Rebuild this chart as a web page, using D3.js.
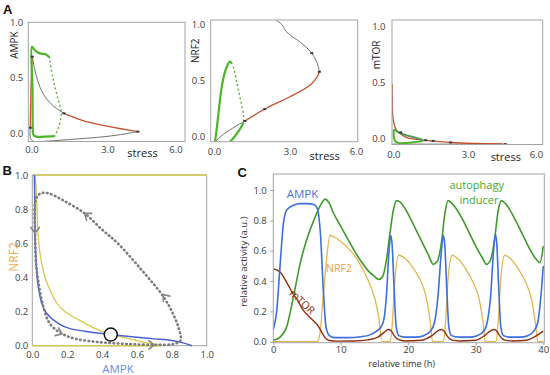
<!DOCTYPE html>
<html>
<head>
<meta charset="utf-8">
<script src="https://cdn.jsdelivr.net/npm/d3@7"></script>
<style>
  body { margin: 0; background: #fff; }
  svg { display: block; }
  text { font-family: 'Open Sans', 'DejaVu Sans', sans-serif; }
</style>
</head>
<body>
<script>
// ---------- panel A : steady states against stress ----------
var stressTicks = [0, 3, 6];
var levelTicks = [0, 0.5, 1];

var a1Lower = [[-0.05, 0.05], [-0.03, -0.05], [0.1, -0.075], [0.5, -0.072], [1.5, -0.056], [2.9, -0.03], [3.7, -0.005], [4.2, 0.015]];
var a1RedUpper = [[4.2, 0.015], [3.08, 0.06], [2.16, 0.105], [1.6, 0.15], [1.28, 0.18]];
var a1GreyUpper = [[1.28, 0.18], [0.98, 0.225], [0.71, 0.28], [0.45, 0.36], [0.25, 0.47], [0.12, 0.585], [0.03, 0.69]];
var a1RedLeft = [[0.03, 0.69], [0.0, 0.55], [-0.03, 0.3], [-0.05, 0.05]];
var a1Green = [[0.91, -0.025], [0.5, -0.03], [0.18, -0.03], [0.07, -0.01], [0.05, 0.05], [0.04, 0.4], [0.02, 0.78], [0.12, 0.75], [0.32, 0.72], [0.58, 0.71], [0.7, 0.685]];
var a1GreenDots = [[0.7, 0.685], [0.84, 0.5], [1.04, 0.315], [1.17, 0.195], [1.1, 0.075], [0.97, 0.0], [0.91, -0.025]];
var a1Marks = [[0.03, 0.69], [1.28, 0.18], [4.2, 0.015], [-0.05, 0.05]];

var a2Lower = [[0.04, -0.05], [0.43, 0.024], [0.83, 0.083], [1.22, 0.134]];
var a2Red = [[1.22, 0.134], [2.08, 0.25], [3.0, 0.35], [3.8, 0.455], [4.05, 0.52], [4.16, 0.574]];
var a2GreyUpper = [[4.16, 0.574], [4.06, 0.66], [3.86, 0.74], [3.55, 0.81], [3.27, 0.86], [2.95, 0.91], [2.8, 0.95], [2.7, 0.99], [2.55, 1.02], [2.4, 1.045]];
var a2Green = [[0.04, -0.05], [0.1, 0.05], [0.17, 0.19], [0.3, 0.43], [0.43, 0.57], [0.55, 0.64], [0.63, 0.665], [0.7, 0.65]];
var a2GreenDots = [[0.7, 0.65], [0.76, 0.62], [0.9, 0.48], [1.03, 0.34], [1.16, 0.19], [1.17, 0.12]];
var a2GreenLow = [[1.17, 0.12], [0.96, 0.038], [0.7, -0.036], [0.63, -0.05]];
var a2Marks = [[1.22, 0.134], [4.16, 0.574], [3.86, 0.74], [2.0, 0.24]];

var a3Red = [[-0.04, 0.48], [-0.04, 0.34], [0.0, 0.16], [0.13, 0.07], [0.47, 0.01], [1.4, -0.024], [2.34, -0.04], [3.3, -0.048], [4.4, -0.053]];
var a3Lower = [[0.0, -0.056], [4.55, -0.056]];
var a3Green = [[0.04, 0.072], [0.2, 0.05], [0.47, 0.027], [0.8, 0.01], [1.0, -0.003], [1.2, -0.024], [0.74, -0.04], [0.13, -0.04], [0.04, -0.01]];
var a3Blue = [[0.13, 0.06], [0.6, 0.02], [1.16, -0.02]];
var a3Marks = [[0.3, 0.05], [1.3, -0.02], [1.6, -0.026], [2.3, -0.04], [4.5, -0.055]];

// ---------- panel B : phase plane ----------
var phaseTicks = [0, 0.2, 0.4, 0.6, 0.8, 1];
var ampkNull = [[0.012, 1.0], [0.014, 0.85], [0.016, 0.65], [0.025, 0.44], [0.044, 0.29], [0.07, 0.21], [0.1, 0.17], [0.15, 0.13], [0.216, 0.1], [0.3, 0.085], [0.41, 0.07], [0.5, 0.06], [0.6, 0.05], [0.7, 0.04], [0.8, 0.03], [0.87, 0.015], [0.915, 0.0]];
var nrf2Null = [[0.015, 1.0], [0.02, 0.95], [0.027, 0.8], [0.034, 0.64], [0.063, 0.44], [0.1, 0.33], [0.14, 0.25], [0.2, 0.19], [0.27, 0.15], [0.34, 0.11], [0.41, 0.08], [0.5, 0.055], [0.6, 0.03], [0.68, 0.012], [0.74, 0.0]];
var nrf2Top = [[0.01, 1], [1, 1]];
var nrf2Bottom = [[0, 0], [0.74, 0]];
var orbit = [[0.015, 0.83], [0.016, 0.65], [0.02, 0.5], [0.034, 0.38], [0.063, 0.23], [0.1, 0.13], [0.17, 0.07], [0.25, 0.04], [0.39, 0.02], [0.55, 0.01], [0.71, 0.005], [0.81, 0.01], [0.85, 0.03], [0.84, 0.1], [0.81, 0.18], [0.75, 0.29], [0.63, 0.44], [0.49, 0.6], [0.4, 0.68], [0.3, 0.775], [0.18, 0.85], [0.1, 0.89], [0.055, 0.895], [0.028, 0.875]];
var orbitArrows = [[0.016, 0.66, 0, -1], [0.17, 0.068, 0.15, -0.07], [0.70, 0.005, 1, 0], [0.75, 0.3, -0.12, 0.15], [0.3, 0.775, -0.22, 0.17]];
var fixedPoint = [0.45, 0.065];

// ---------- panel C : time courses ----------
var timeTicks = [0, 10, 20, 30, 40];
var activityTicks = [0, 0.2, 0.4, 0.6, 0.8, 1];
var ampkT = [[0, 0.08], [0.5, 0.2], [1, 0.5], [1.5, 0.78], [2, 0.87], [3, 0.9], [4, 0.91], [5, 0.91], [6, 0.905], [6.5, 0.88], [7, 0.7], [7.4, 0.35], [7.8, 0.1], [8.3, 0.04], [9, 0.027], [11, 0.027], [13, 0.033], [14.3, 0.045], [15.3, 0.07], [16, 0.1], [16.4, 0.15], [16.8, 0.33], [17.1, 0.57], [17.4, 0.7], [17.6, 0.64], [17.9, 0.35], [18.2, 0.1], [18.6, 0.04], [19.5, 0.03], [21, 0.03], [22.3, 0.04], [23.3, 0.07], [23.9, 0.13], [24.4, 0.3], [24.85, 0.57], [25.2, 0.7], [25.4, 0.64], [25.7, 0.35], [26, 0.1], [26.4, 0.04], [27.5, 0.03], [29, 0.03], [30.2, 0.04], [31.2, 0.07], [31.7, 0.13], [32.2, 0.3], [32.6, 0.58], [32.9, 0.71], [33.1, 0.65], [33.4, 0.35], [33.7, 0.1], [34.1, 0.04], [35, 0.03], [36.5, 0.03], [37.7, 0.04], [38.6, 0.07], [39.2, 0.13], [39.6, 0.28], [40, 0.5]];
var autoT = [[0, 0.01], [1, 0.03], [2, 0.1], [3, 0.3], [4, 0.52], [5, 0.68], [6, 0.8], [7, 0.9], [7.7, 0.94], [8.2, 0.92], [9, 0.84], [10, 0.76], [11, 0.68], [12, 0.6], [13, 0.53], [14, 0.47], [15, 0.43], [15.6, 0.41], [16.2, 0.43], [16.8, 0.55], [17.3, 0.72], [17.8, 0.87], [18.3, 0.93], [18.8, 0.92], [20, 0.84], [21, 0.75], [22, 0.66], [23, 0.57], [23.7, 0.51], [24.3, 0.53], [24.9, 0.65], [25.4, 0.84], [25.9, 0.93], [26.5, 0.91], [28, 0.81], [29, 0.72], [30, 0.63], [31, 0.55], [31.6, 0.51], [32.2, 0.54], [32.8, 0.68], [33.3, 0.86], [33.8, 0.93], [34.4, 0.91], [36, 0.79], [37, 0.7], [38, 0.61], [39, 0.54], [39.5, 0.52], [40, 0.63]];
var nrf2T = [[0, 0], [6.5, 0], [6.9, 0.05], [7.3, 0.25], [7.8, 0.5], [8.4, 0.7], [9, 0.69], [10, 0.66], [11, 0.62], [12, 0.57], [13, 0.5], [14, 0.41], [15, 0.29], [15.6, 0.17], [16.1, 0], [17.3, 0], [17.6, 0.1], [18, 0.4], [18.6, 0.57], [19.5, 0.55], [20.5, 0.5], [21.5, 0.43], [22.5, 0.32], [23.2, 0.15], [23.6, 0], [25.2, 0], [25.5, 0.12], [25.9, 0.42], [26.5, 0.57], [27.5, 0.54], [28.5, 0.48], [29.5, 0.4], [30.5, 0.28], [31.1, 0.12], [31.4, 0], [33, 0], [33.3, 0.12], [33.7, 0.42], [34.3, 0.57], [35.3, 0.54], [36.3, 0.48], [37.3, 0.4], [38.3, 0.27], [38.9, 0.1], [39.2, 0], [40, 0]];
var mtorT = [[0, 0.48], [1, 0.46], [2, 0.39], [3, 0.31], [3.5, 0.28], [4.4, 0.21], [5.2, 0.17], [5.9, 0.14], [6.7, 0.1], [7.2, 0.06], [7.7, 0.025], [8.3, 0.008], [9.5, 0.004], [12, 0.005], [14, 0.012], [15.5, 0.03], [16.5, 0.065], [17, 0.08], [17.4, 0.075], [17.9, 0.04], [18.5, 0.015], [19.5, 0.005], [22, 0.01], [23.5, 0.04], [24.5, 0.075], [24.9, 0.08], [25.3, 0.07], [25.8, 0.035], [26.5, 0.01], [27.5, 0.005], [30, 0.01], [31.3, 0.04], [32.3, 0.075], [32.7, 0.08], [33.1, 0.07], [33.6, 0.035], [34.3, 0.01], [35.5, 0.005], [37.5, 0.01], [39, 0.04], [40, 0.07]];

// ---------- drawing ----------
var svg = d3.select('body').append('svg')
    .attr('width', 550)
    .attr('height', 375);

var boxColor = '#a3a3a3', tickColor = '#404040';
var grey = '#707070', red = '#c4502c', green = '#4cb52a', dotGreen = '#6aa83a';

function addPanel(id, box) {
  svg.append('clipPath').attr('id', id)
    .append('rect').attr('x', box[0]).attr('y', box[1])
    .attr('width', box[2] - box[0]).attr('height', box[3] - box[1]);
  return svg.append('g').attr('clip-path', 'url(#' + id + ')');
}

function path(g, pts, xs, ys, color, w, curve, dash) {
  var line = d3.line()
      .x(function(d){ return xs(d[0]); })
      .y(function(d){ return ys(d[1]); })
      .curve(curve || d3.curveCatmullRom);
  var p = g.append('path').datum(pts)
    .attr('d', line)
    .attr('fill', 'none')
    .attr('stroke', color)
    .attr('stroke-width', w)
    .attr('stroke-linejoin', 'round');
  if (dash) p.attr('stroke-dasharray', dash).attr('stroke-linecap', 'round');
  return p;
}

function frame(box) {
  svg.append('rect')
    .attr('x', box[0]).attr('y', box[1])
    .attr('width', box[2] - box[0]).attr('height', box[3] - box[1])
    .attr('fill', 'none').attr('stroke', boxColor).attr('stroke-width', 1);
}

function styleAxis(g) {
  g.select('.domain').remove();
  g.selectAll('line').attr('stroke', boxColor);
  g.selectAll('text').attr('fill', tickColor).style('font-size', '9.5px')
    .style('font-family', "'Open Sans', sans-serif");
}

function axesA(box, xs, ys, ypad, xpad, lastX) {
  svg.append('g').attr('transform', 'translate(' + box[0] + ',0)')
    .call(d3.axisLeft(ys).tickValues(levelTicks).tickFormat(d3.format('.1f')).tickSize(0).tickPadding(ypad))
    .call(styleAxis);
  var gx = svg.append('g').attr('transform', 'translate(0,' + box[3] + ')')
    .call(d3.axisBottom(xs).tickValues(stressTicks).tickFormat(d3.format('.1f')).tickSize(0).tickPadding(xpad))
    .call(styleAxis);
  gx.selectAll('.tick').filter(function(d){ return d === 6; })
    .attr('transform', 'translate(' + lastX + ',0)');
}

function marks(g, pts, xs, ys) {
  g.selectAll(null).data(pts).enter().append('rect')
    .attr('x', function(d){ return xs(d[0]) - 1.5; })
    .attr('y', function(d){ return ys(d[1]) - 1; })
    .attr('width', 3).attr('height', 2)
    .attr('fill', '#3a3a3a');
}

function label(x, y, txt, size, color, rot, weight) {
  var t = svg.append('text')
    .attr('x', x).attr('y', y)
    .attr('text-anchor', 'middle')
    .attr('fill', color)
    .style('font-size', size + 'px')
    .text(txt);
  if (rot) t.attr('transform', 'rotate(' + rot + ',' + x + ',' + y + ')').attr('dominant-baseline', 'central');
  if (weight) t.style('font-weight', weight);
  return t;
}

// panel letters
function letter(x, y, s) {
  svg.append('text').attr('x', x).attr('y', y).text(s)
    .style('font-family', "'Liberation Sans', Arial, sans-serif")
    .style('font-weight', 'bold').style('font-size', '13px').attr('fill', '#111');
}
letter(3, 13.5, 'A');
letter(2.5, 175, 'B');
letter(237.5, 176.5, 'C');

// ---- A1 ----
(function() {
  var box = [28.3, 22.3, 185, 141.5];
  var x = d3.scaleLinear().domain([0, 3]).range([31.5, 107.5]);
  var y = d3.scaleLinear().domain([0, 1]).range([133.3, 22.3]);
  var g = addPanel('a1', box);
  path(g, a1Lower, x, y, grey, 1);
  path(g, a1GreyUpper, x, y, grey, 1);
  path(g, a1RedUpper, x, y, red, 1.3);
  path(g, a1RedLeft, x, y, red, 1.3);
  path(g, a1GreenDots, x, y, dotGreen, 1.6, null, '0.5,4');
  path(g, a1Green, x, y, green, 2.2);
  marks(g, a1Marks, x, y);
  frame(box);
  axesA(box, x, y, 5, 5, 176);
  label(142.5, 157, 'stress', 11, '#222');
  label(13.5, 45, 'AMPK', 10, '#222', -90);
})();

// ---- A2 ----
(function() {
  var box = [210.7, 20, 357.7, 141.7];
  var x = d3.scaleLinear().domain([0, 3]).range([214, 290]);
  var y = d3.scaleLinear().domain([0, 1]).range([136, 24]);
  var g = addPanel('a2', box);
  path(g, a2Lower, x, y, grey, 1);
  path(g, a2GreyUpper, x, y, grey, 1);
  path(g, a2Red, x, y, red, 1.3);
  path(g, a2GreenDots, x, y, dotGreen, 1.6, null, '0.5,4');
  path(g, a2Green, x, y, green, 2.2);
  path(g, a2GreenLow, x, y, green, 2.2);
  marks(g, a2Marks, x, y);
  frame(box);
  axesA(box, x, y, 5.5, 6.6, 356.5);
  label(324.7, 159.5, 'stress', 11, '#222');
  label(195, 50.7, 'NRF2', 10, '#222', -90);
})();

// ---- A3 ----
(function() {
  var box = [392, 20, 542.7, 144.5];
  var x = d3.scaleLinear().domain([0, 3]).range([393.3, 468]);
  var y = d3.scaleLinear().domain([0, 1]).range([138, 26]);
  var g = addPanel('a3', box);
  path(g, a3Lower, x, y, '#333', 1.2);
  path(g, a3Red, x, y, red, 1.3);
  path(g, a3Green, x, y, green, 2, d3.curveCatmullRomClosed);
  path(g, a3Blue, x, y, '#5a7ab8', 1);
  marks(g, a3Marks, x, y);
  frame(box);
  axesA(box, x, y, 6.5, 7.1, 536.5);
  label(505.8, 161, 'stress', 11, '#222');
  label(376, 55, 'mTOR', 10, '#222', -90);
})();

// ---- B ----
(function() {
  var box = [32.3, 175, 206.7, 345.7];
  var x = d3.scaleLinear().domain([0, 1]).range([32.3, 206.7]);
  var y = d3.scaleLinear().domain([0, 1]).range([345.7, 175]);
  frame(box);
  var g = svg.append('g');
  var yellow = '#d6c94c', blue = '#4a5fd4';
  path(g, nrf2Top, x, y, yellow, 1.5, d3.curveLinear);
  path(g, nrf2Bottom, x, y, yellow, 1.5, d3.curveLinear);
  path(g, nrf2Null, x, y, yellow, 1.3, d3.curveMonotoneX);
  path(g, ampkNull, x, y, blue, 1.5, d3.curveMonotoneX);
  path(g, orbit, x, y, '#7c7c7c', 2.6, d3.curveCatmullRomClosed, '0.6,3.6');

  orbitArrows.forEach(function(a) {
    var px = x(a[0]), py = y(a[1]);
    var ang = Math.atan2(y(a[1] + a[3] * 0.01) - py, x(a[0] + a[2] * 0.01) - px);
    var len = 7, spread = 0.65;
    var p1 = [px - len * Math.cos(ang - spread), py - len * Math.sin(ang - spread)];
    var p2 = [px - len * Math.cos(ang + spread), py - len * Math.sin(ang + spread)];
    g.append('path')
      .attr('d', 'M' + p1 + 'L' + [px, py] + 'L' + p2)
      .attr('fill', 'none').attr('stroke', '#858585').attr('stroke-width', 1.6)
      .attr('stroke-linecap', 'round').attr('stroke-linejoin', 'round');
  });

  g.append('circle')
    .attr('cx', x(fixedPoint[0])).attr('cy', y(fixedPoint[1])).attr('r', 6.5)
    .attr('fill', '#fff').attr('stroke', '#111').attr('stroke-width', 1.5);

  svg.append('g').attr('transform', 'translate(' + box[0] + ',0)')
    .call(d3.axisLeft(y).tickValues(phaseTicks).tickFormat(d3.format('.1f')).tickSize(0).tickPadding(4))
    .call(styleAxis);
  svg.append('g').attr('transform', 'translate(0,' + box[3] + ')')
    .call(d3.axisBottom(x).tickValues(phaseTicks).tickFormat(d3.format('.1f')).tickSize(0).tickPadding(6))
    .call(styleAxis);

  label(13, 257, 'NRF2', 12, '#f2a94a', -90);
  label(118, 373, 'AMPK', 11.5, '#6b8ee0');
})();

// ---- C ----
(function() {
  var box = [273.3, 174, 544.3, 342.7];
  var x = d3.scaleLinear().domain([0, 40]).range([273.3, 543.3]);
  var y = d3.scaleLinear().domain([0, 1]).range([341.7, 190]);
  var g = addPanel('c', box);
  path(g, nrf2T, x, y, '#e2b650', 1.3, d3.curveMonotoneX);
  path(g, mtorT, x, y, '#8e2d10', 1.4, d3.curveMonotoneX);
  path(g, autoT, x, y, '#3f9a2b', 1.6, d3.curveMonotoneX);
  path(g, ampkT, x, y, '#3d6edb', 1.6, d3.curveMonotoneX);
  frame(box);

  svg.append('g').attr('transform', 'translate(' + box[0] + ',0)')
    .call(d3.axisLeft(y).tickValues(activityTicks).tickFormat(d3.format('.1f')).tickSize(3).tickPadding(3.5))
    .call(styleAxis);
  svg.append('g').attr('transform', 'translate(0,' + box[3] + ')')
    .call(d3.axisBottom(x).tickValues(timeTicks).tickFormat(d3.format('d')).tickSize(2.5).tickPadding(1.5))
    .call(styleAxis);

  label(401.7, 367, 'relative time (h)', 9.2, '#333');
  label(243.3, 261.7, 'relative activity (a.u.)', 9.5, '#333', -90);

  label(302.5, 198, 'AMPK', 11.5, '#4a72d9');
  label(476.7, 189, 'autophagy', 11, '#3cae2c');
  label(479, 204, 'inducer', 11, '#3cae2c');
  label(339, 271.5, 'NRF2', 10.5, '#f0a040');
  label(302.5, 301.7, 'mTOR', 10.5, '#8e1f05', 43);
})();
</script>
</body>
</html>
